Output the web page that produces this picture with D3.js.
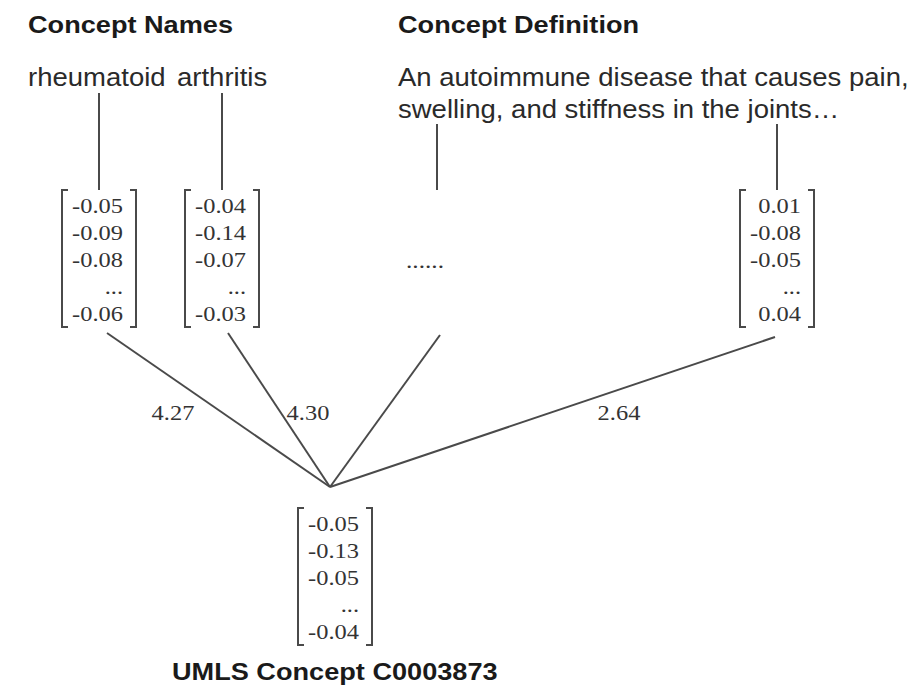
<!DOCTYPE html>
<html>
<head>
<meta charset="utf-8">
<script src="https://cdn.jsdelivr.net/npm/d3@7"></script>
<style>
  html, body { margin: 0; padding: 0; background: #fff; }
  svg { display: block; }
</style>
</head>
<body>
<svg id="chart" width="916" height="685"></svg>
<script>
// ---------------- data ----------------
const headers = ["Concept Names", "Concept Definition"];
const conceptNames = ["rheumatoid", "arthritis"];
const definitionLines = ["An autoimmune disease that causes pain,", "swelling, and stiffness in the joints\u2026"];
const columns = ["rheumatoid", "arthritis", "definition-middle", "definition-end"];
const vecRheumatoid = [-0.05, -0.09, -0.08, null, -0.06];
const vecArthritis = [-0.04, -0.14, -0.07, null, -0.03];
const vecDefinitionEnd = [0.01, -0.08, -0.05, null, 0.04];
const edgeWeights = [4.27, 4.30, null, 2.64];
const conceptVector = [-0.05, -0.13, -0.05, null, -0.04];
const conceptTitle = "UMLS Concept C0003873";

// ---------------- layout ----------------
const svg = d3.select("#chart");
const STRETCH = 1.11;
const sans = "'Liberation Sans', Arial, Helvetica, sans-serif";
const serif = "'Liberation Serif', 'Times New Roman', serif";
const lineColor = "#4a4a4a";
const textColor = "#2a2a2a";

const colX = d3.scaleOrdinal().domain(columns).range([99, 222, 437, 777]);
const topRowY = d3.scaleLinear().domain([0, 4]).range([205, 313]);
const botRowY = d3.scaleLinear().domain([0, 4]).range([523, 631]);
const hubX = 330, hubY = 487, hubCol = 335;

const vectors = [
  { col: "rheumatoid", values: vecRheumatoid },
  { col: "arthritis", values: vecArthritis },
  { col: "definition-end", values: vecDefinitionEnd }
];

function stretchText(sel, f) {
  sel.each(function () {
    const len = this.getComputedTextLength();
    d3.select(this).attr("textLength", len * f).attr("lengthAdjust", "spacingAndGlyphs");
  });
}

// headers
svg.selectAll("text.header").data(headers).join("text")
  .attr("class", "header")
  .attr("x", (d, i) => i === 0 ? 28 : 398)
  .attr("y", 33)
  .attr("font-family", sans).attr("font-weight", "bold").attr("font-size", 24)
  .attr("fill", "#1a1a1a")
  .text(d => d)
  .call(stretchText, 1.13);

// concept names
svg.selectAll("text.cname").data(conceptNames).join("text")
  .attr("class", "cname")
  .attr("x", (d, i) => i === 0 ? 28 : 177)
  .attr("y", 86)
  .attr("font-family", sans).attr("font-size", 25)
  .attr("fill", textColor)
  .text(d => d)
  .call(stretchText, 1.1);

// definition lines
svg.selectAll("text.defline").data(definitionLines).join("text")
  .attr("class", "defline")
  .attr("x", 398)
  .attr("y", (d, i) => 86 + i * 32)
  .attr("font-family", sans).attr("font-size", 25)
  .attr("fill", textColor)
  .text(d => d)
  .call(stretchText, 1.1);

// vertical connectors from text to vectors
const connTop = { "rheumatoid": 93, "arthritis": 93, "definition-middle": 124, "definition-end": 124 };
svg.selectAll("line.conn").data(columns).join("line")
  .attr("class", "conn")
  .attr("x1", d => colX(d)).attr("x2", d => colX(d))
  .attr("y1", d => connTop[d]).attr("y2", 190)
  .attr("stroke", lineColor).attr("stroke-width", 2);

// vector drawing helper
function drawVector(g, cx, values, rowY) {
  const halfW = 37, serifW = 6;
  const top = rowY(0) - 15, bottom = rowY(values.length - 1) + 14;
  g.append("path")
    .attr("d", `M${cx - halfW + serifW},${top}H${cx - halfW}V${bottom}H${cx - halfW + serifW}`)
    .attr("fill", "none").attr("stroke", lineColor).attr("stroke-width", 2);
  g.append("path")
    .attr("d", `M${cx + halfW - serifW},${top}H${cx + halfW}V${bottom}H${cx + halfW - serifW}`)
    .attr("fill", "none").attr("stroke", lineColor).attr("stroke-width", 2);
  g.selectAll("text.val").data(values).join("text")
    .attr("class", "val")
    .attr("x", cx + 24)
    .attr("y", (d, i) => rowY(i))
    .attr("dy", "0.35em")
    .attr("text-anchor", "end")
    .attr("font-family", serif).attr("font-size", 22)
    .attr("fill", "#333")
    .text(d => d === null ? "..." : d.toFixed(2))
    .call(stretchText, STRETCH);
}

vectors.forEach(v => drawVector(svg.append("g"), colX(v.col), v.values, topRowY));

// ellipsis for middle definition column
svg.append("text")
  .attr("x", colX("definition-middle") - 12)
  .attr("y", topRowY(2) + 9)
  .attr("text-anchor", "middle")
  .attr("font-family", serif).attr("font-size", 22)
  .attr("fill", "#333")
  .text("......")
  .call(stretchText, 1.15);

// edges to hub
const edgeStart = { "rheumatoid": [107, 333], "arthritis": [228, 333], "definition-middle": [440, 335], "definition-end": [775, 337] };
svg.selectAll("line.edge").data(columns).join("line")
  .attr("class", "edge")
  .attr("x1", d => edgeStart[d][0]).attr("y1", d => edgeStart[d][1])
  .attr("x2", hubX).attr("y2", hubY)
  .attr("stroke", lineColor).attr("stroke-width", 2);

// edge weight labels
const labelPos = { "rheumatoid": [173, 420], "arthritis": [308, 420], "definition-end": [619, 420] };
svg.selectAll("text.weight").data(columns.map((c, i) => ({ c, w: edgeWeights[i] })).filter(d => d.w !== null))
  .join("text")
  .attr("class", "weight")
  .attr("x", d => labelPos[d.c][0])
  .attr("y", d => labelPos[d.c][1])
  .attr("text-anchor", "middle")
  .attr("font-family", serif).attr("font-size", 22)
  .attr("fill", "#333")
  .text(d => d.w.toFixed(2))
  .call(stretchText, STRETCH);

// concept vector
drawVector(svg.append("g"), hubCol, conceptVector, botRowY);

// bottom title
svg.append("text")
  .attr("x", 172).attr("y", 680)
  .attr("font-family", sans).attr("font-weight", "bold").attr("font-size", 24)
  .attr("fill", "#1a1a1a")
  .text(conceptTitle)
  .call(stretchText, 1.13);
</script>
</body>
</html>
